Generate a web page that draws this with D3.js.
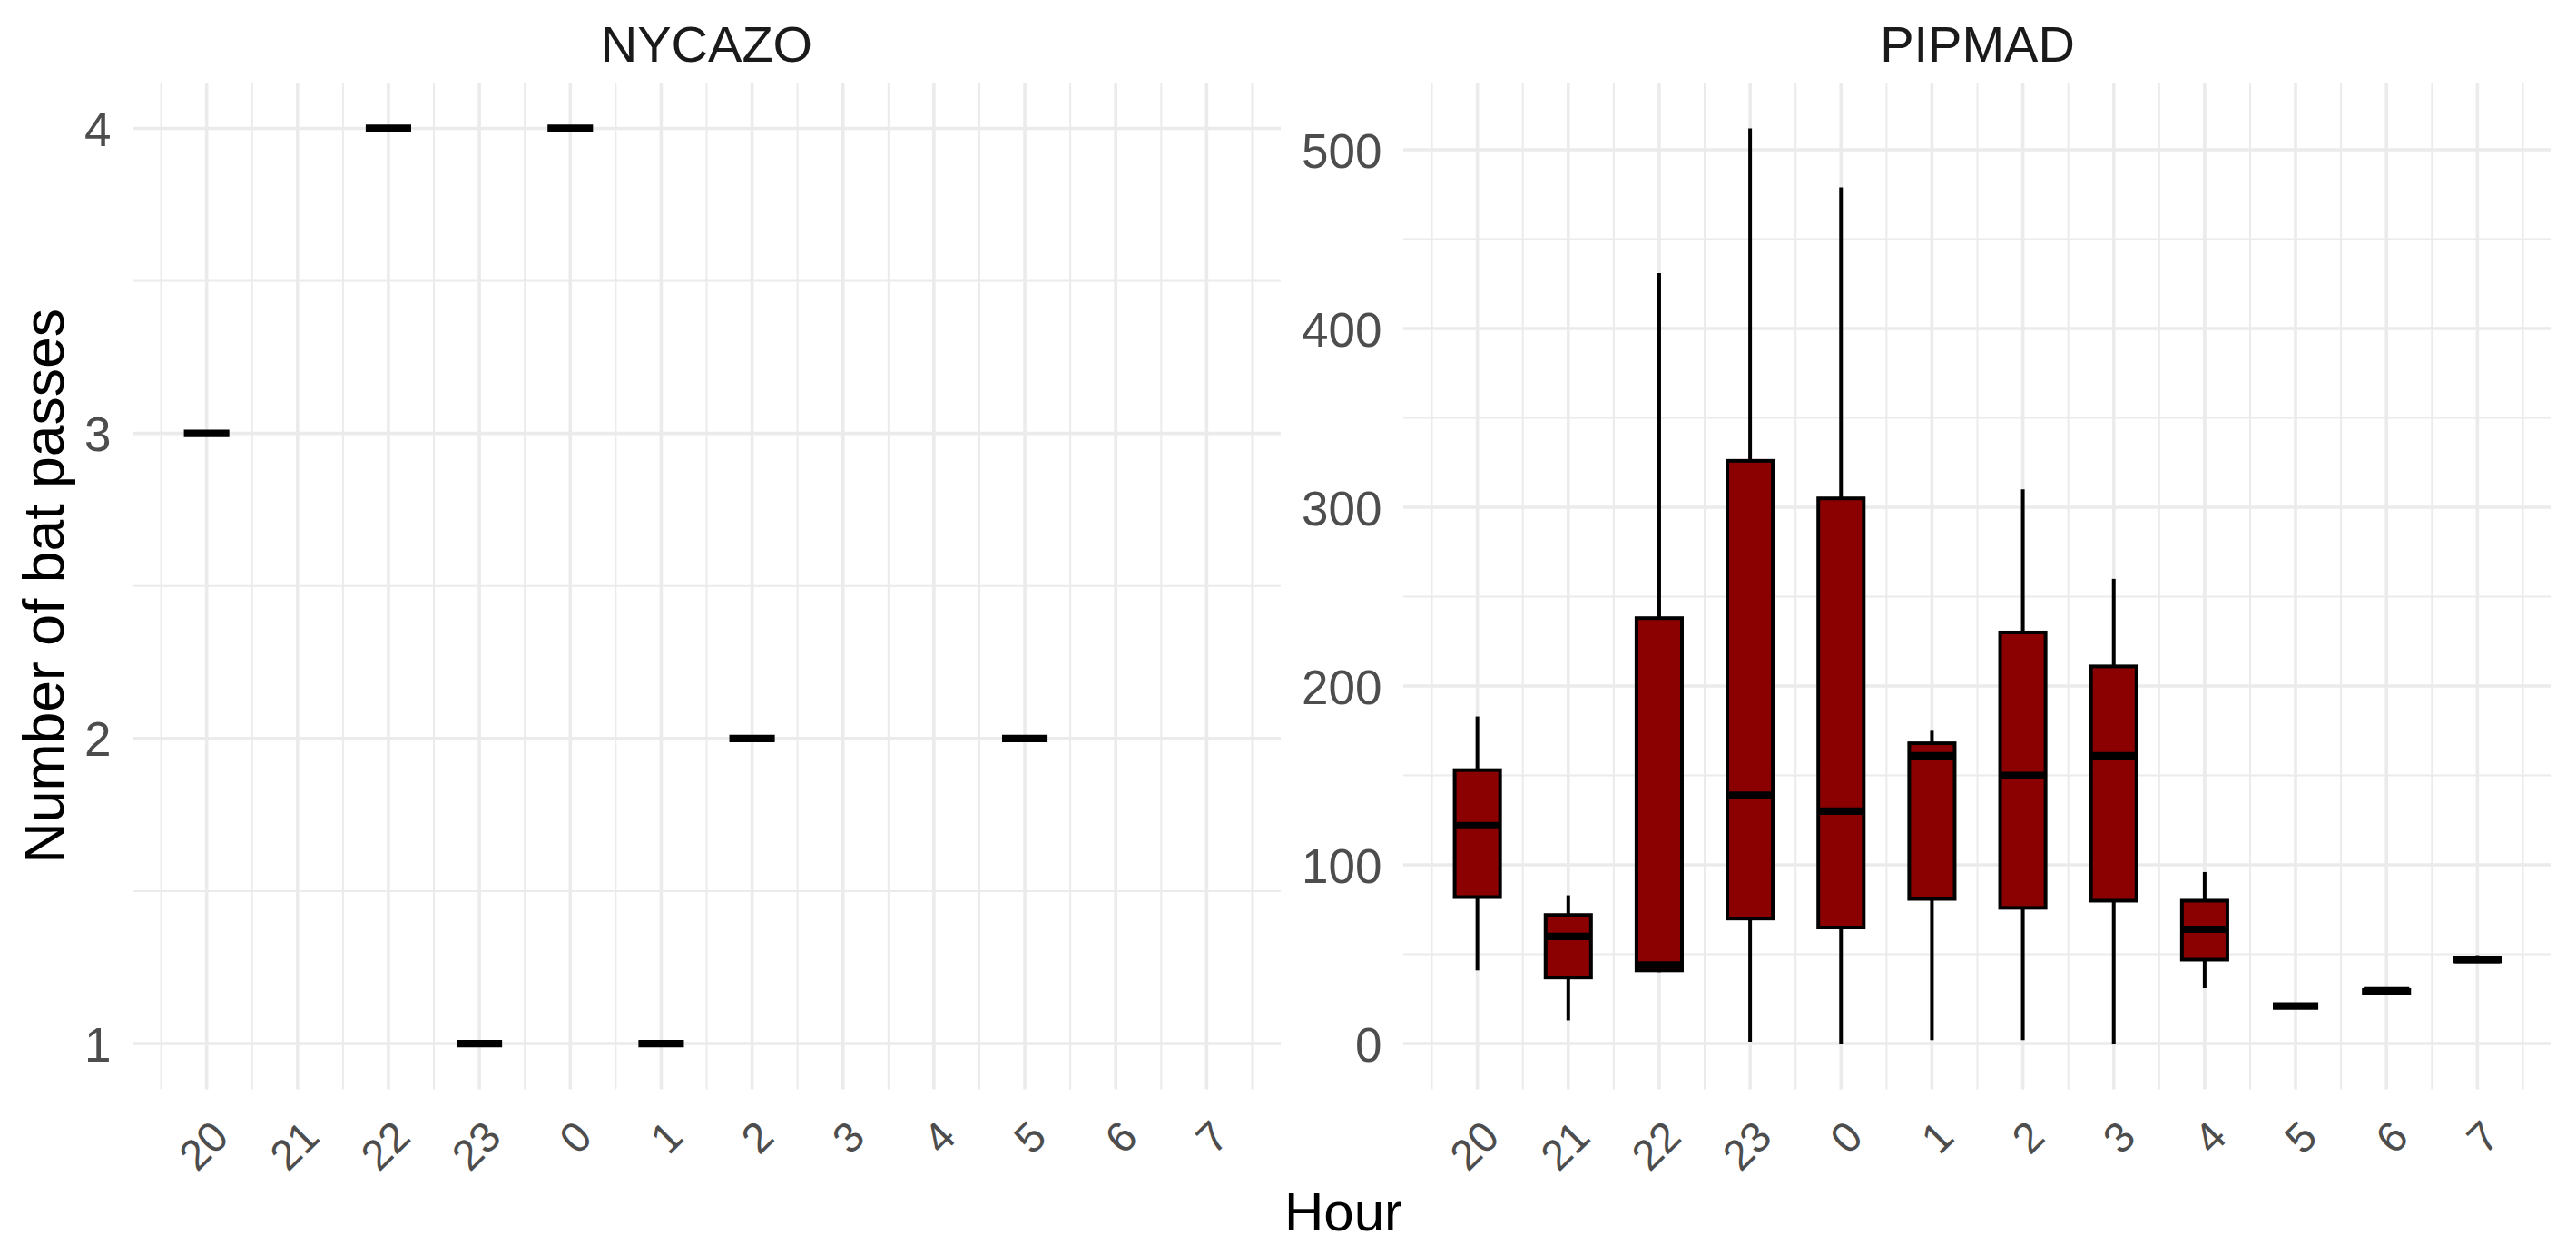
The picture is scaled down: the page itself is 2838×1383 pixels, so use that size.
<!DOCTYPE html>
<html>
<head>
<meta charset="utf-8">
<script src="https://cdn.jsdelivr.net/npm/d3@7"></script>
<style>
  html, body { margin: 0; padding: 0; background: #ffffff; }
  svg { display: block; font-family: "Liberation Sans", Arial, sans-serif; }
</style>
</head>
<body>
<svg id="chart" width="2838" height="1383"></svg>
<script>
// ---- data ----
const hours = ["20", "21", "22", "23", "0", "1", "2", "3", "4", "5", "6", "7"];
const panelTitles = ["NYCAZO", "PIPMAD"];

// NYCAZO: single observation per hour (null = no data)
const nycazoValues = [3, null, 4, 1, 4, 1, 2, null, null, 2, null, null];

// PIPMAD boxplot statistics per hour
const pipLower  = [41, 13, 40,   1,   0,   2,   2,   0, 31, 21, 27,   46];
const pipQ1     = [82, 37, 41,  70,  65,  81,  76,  80, 47, 21, 28,   46];
const pipMedian = [122, 60, 44, 139, 130, 161, 150, 161, 64, 21, 29.5, 47];
const pipQ3     = [153, 72, 238, 326, 305, 168, 230, 211, 80, 21, 30,  48];
const pipUpper  = [183, 83, 431, 512, 479, 175, 310, 260, 96, 21, 31,  49.5];

const leftTicks = [1, 2, 3, 4];
const leftMinor = [1.5, 2.5, 3.5];
const rightTicks = [0, 100, 200, 300, 400, 500];
const rightMinor = [50, 150, 250, 350, 450];

const xLabel = "Hour";
const yLabel = "Number of bat passes";

// ---- layout ----
const svg = d3.select("#chart");
const pTop = 91, pBottom = 1200.5;
const panels = [
  { left: 146, right: 1411 },
  { left: 1546, right: 2811 }
];
const gridColor = "#EBEBEB";
const boxHalf = 0.25;

const idx = d3.range(1, hours.length + 1);
const majorX = idx;
const minorX = d3.range(0.5, hours.length + 1, 1);

function makeX(p) {
  return d3.scaleLinear().domain([0.185, 12.815]).range([p.left, p.right]);
}

function drawGrid(g, x, y, yMajor, yMinor, p) {
  g.selectAll("line.ymin").data(yMinor).join("line").attr("class", "ymin")
    .attr("x1", p.left).attr("x2", p.right)
    .attr("y1", d => y(d)).attr("y2", d => y(d))
    .attr("stroke", gridColor).attr("stroke-width", 2);
  g.selectAll("line.xmin").data(minorX).join("line").attr("class", "xmin")
    .attr("x1", d => x(d)).attr("x2", d => x(d))
    .attr("y1", pTop).attr("y2", pBottom)
    .attr("stroke", gridColor).attr("stroke-width", 2);
  g.selectAll("line.ymaj").data(yMajor).join("line").attr("class", "ymaj")
    .attr("x1", p.left).attr("x2", p.right)
    .attr("y1", d => y(d)).attr("y2", d => y(d))
    .attr("stroke", gridColor).attr("stroke-width", 3.6);
  g.selectAll("line.xmaj").data(majorX).join("line").attr("class", "xmaj")
    .attr("x1", d => x(d)).attr("x2", d => x(d))
    .attr("y1", pTop).attr("y2", pBottom)
    .attr("stroke", gridColor).attr("stroke-width", 3.6);
}

function drawAxes(x, y, yTicks, p, title) {
  const ya = svg.append("g").attr("transform", `translate(${p.left},0)`)
    .call(d3.axisLeft(y).tickValues(yTicks).tickSize(0).tickPadding(23.5).tickFormat(d3.format("d")));
  ya.select(".domain").remove();
  ya.selectAll("text").attr("fill", "#4D4D4D").attr("font-size", 53)
    .attr("font-family", "Liberation Sans, Arial, sans-serif").attr("dy", "0.36em");

  const xa = svg.append("g").attr("transform", `translate(0,${pBottom})`)
    .call(d3.axisBottom(x).tickValues(idx).tickSize(0).tickFormat(i => hours[i - 1]));
  xa.select(".domain").remove();
  xa.selectAll("text").attr("fill", "#4D4D4D").attr("font-size", 47)
    .attr("font-family", "Liberation Sans, Arial, sans-serif")
    .attr("x", 0).attr("y", 0).attr("dy", null)
    .attr("text-anchor", "end")
    .attr("transform", "translate(26,55) rotate(-45)");

  svg.append("text").attr("x", (p.left + p.right) / 2).attr("y", 68)
    .attr("text-anchor", "middle").attr("font-size", 56).attr("fill", "#1A1A1A")
    .text(title);
}

// ---- left panel: NYCAZO ----
{
  const p = panels[0];
  const x = makeX(p);
  const y = d3.scaleLinear().domain([0.85, 4.15]).range([pBottom, pTop]);
  const g = svg.append("g");
  drawGrid(g, x, y, leftTicks, leftMinor, p);
  const pts = nycazoValues.map((v, i) => ({ i: i + 1, v })).filter(d => d.v !== null);
  svg.append("g").selectAll("line").data(pts).join("line")
    .attr("x1", d => x(d.i - boxHalf)).attr("x2", d => x(d.i + boxHalf))
    .attr("y1", d => y(d.v)).attr("y2", d => y(d.v))
    .attr("stroke", "#000").attr("stroke-width", 8.2);
  drawAxes(x, y, leftTicks, p, panelTitles[0]);
}

// ---- right panel: PIPMAD ----
{
  const p = panels[1];
  const x = makeX(p);
  const y = d3.scaleLinear().domain([-25.6, 537.6]).range([pBottom, pTop]);
  const g = svg.append("g");
  drawGrid(g, x, y, rightTicks, rightMinor, p);
  const boxes = hours.map((h, k) => ({
    i: k + 1, lo: pipLower[k], q1: pipQ1[k], med: pipMedian[k], q3: pipQ3[k], hi: pipUpper[k]
  }));
  const bg = svg.append("g");
  // whiskers
  bg.selectAll("line.wu").data(boxes).join("line").attr("class", "wu")
    .attr("x1", d => x(d.i)).attr("x2", d => x(d.i))
    .attr("y1", d => y(d.q3)).attr("y2", d => y(d.hi))
    .attr("stroke", "#000").attr("stroke-width", 4);
  bg.selectAll("line.wl").data(boxes).join("line").attr("class", "wl")
    .attr("x1", d => x(d.i)).attr("x2", d => x(d.i))
    .attr("y1", d => y(d.q1)).attr("y2", d => y(d.lo))
    .attr("stroke", "#000").attr("stroke-width", 4);
  // boxes
  bg.selectAll("rect").data(boxes.filter(d => d.q3 > d.q1)).join("rect")
    .attr("x", d => x(d.i - boxHalf)).attr("width", d => x(d.i + boxHalf) - x(d.i - boxHalf))
    .attr("y", d => y(d.q3)).attr("height", d => y(d.q1) - y(d.q3))
    .attr("fill", "#8B0000").attr("stroke", "#000").attr("stroke-width", 4);
  // medians
  bg.selectAll("line.med").data(boxes).join("line").attr("class", "med")
    .attr("x1", d => x(d.i - boxHalf)).attr("x2", d => x(d.i + boxHalf))
    .attr("y1", d => y(d.med)).attr("y2", d => y(d.med))
    .attr("stroke", "#000").attr("stroke-width", 8.2);
  drawAxes(x, y, rightTicks, p, panelTitles[1]);
}

// ---- axis titles ----
svg.append("text").attr("x", 1480).attr("y", 1356)
  .attr("text-anchor", "middle").attr("font-size", 60).attr("fill", "#000")
  .text(xLabel);
svg.append("text").attr("transform", "translate(70,645.7) rotate(-90)")
  .attr("text-anchor", "middle").attr("font-size", 62.5).attr("fill", "#000")
  .text(yLabel);
</script>
</body>
</html>
